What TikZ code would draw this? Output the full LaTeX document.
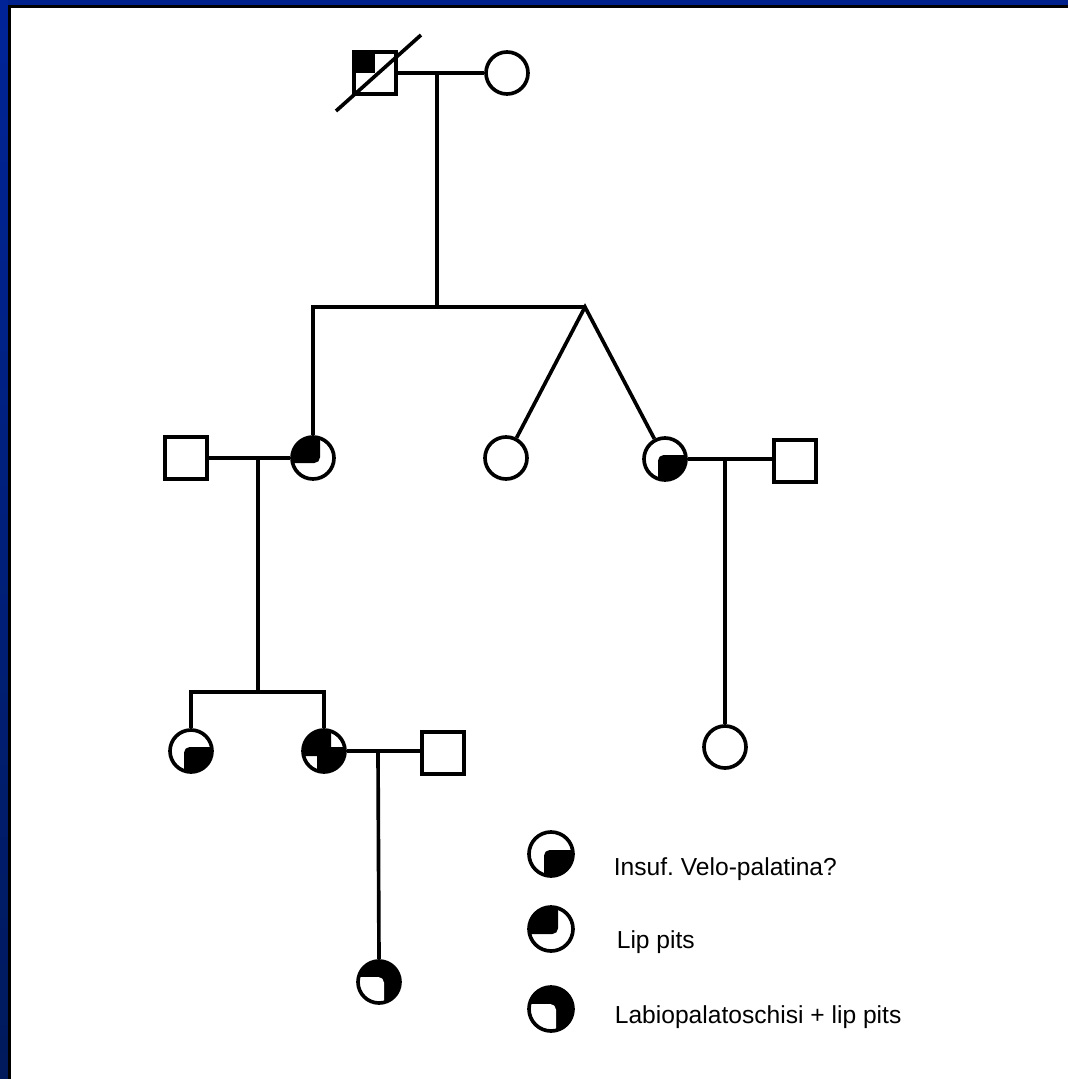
\documentclass[tikz,border=0pt]{standalone}
\usepackage{fontspec}
\setmainfont{Liberation Sans}
\frenchspacing
\definecolor{framelight}{RGB}{0,36,152}
\definecolor{framedark}{RGB}{0,26,92}
% quarter fills, drawn inside the symbols
\newcommand\lipfill{\fill[rounded corners=4pt] ([shift={(-30,-30)}]path picture bounding box.center) rectangle ([shift={(7,5)}]path picture bounding box.center);}
\newcommand\velofill{\fill[rounded corners=4pt] ([shift={(-7,-4)}]path picture bounding box.center) rectangle ([shift={(30,30)}]path picture bounding box.center);}
\tikzset{
  male/.style={draw, rectangle, minimum size=1.06cm, inner sep=0pt},
  female/.style={draw, circle, minimum size=1.05cm, inner sep=0pt},
  lippits/.style={path picture={\lipfill}},
  velo/.style={path picture={\velofill}},
  lipvelo/.style={path picture={\lipfill\velofill}},
  labio/.style={fill=black, path picture={\fill[white, rounded corners=4pt] ([shift={(-30,-5)}]path picture bounding box.center) rectangle ([shift={(5,30)}]path picture bounding box.center);}},
  quarter/.style={path picture={\fill (path picture bounding box.north west) rectangle (path picture bounding box.center);}},
  legend/.style={female, minimum size=1.1cm},
  legtext/.style={anchor=base west, font=\fontsize{17.5}{20}\selectfont, inner sep=0pt}
}
\begin{document}
\begin{tikzpicture}[x=0.025cm, y=-0.025cm, line width=2.6pt]
\useasboundingbox (0,0) rectangle (1068,1079);
% frame
\fill[white] (0,0) rectangle (1068,1079);
\shade[top color=framelight, bottom color=framedark] (0,0) rectangle (8,1079);
\fill[framelight!92!black] (8,0) rectangle (1068,5);
\fill[black] (8,5) rectangle (1068,8);
\fill[black] (8,8) rectangle (11,1079);

% generation I
\node[male, quarter] (gf) at (375,73) {};
\node[female] (gm) at (507,73) {};
\draw (gf.center) ++(-39,38) -- ++(85,-76);
\coordinate (m1) at (437,73);
\coordinate (d1) at (437,307);
\coordinate (tw) at (585,307);

% generation II
\node[male] (h2) at (186,458) {};
\node[female, lippits] (c2) at (313,458) {};
\node[female] (c3) at (506,458) {};
\node[female, velo] (c4) at (665,459) {};
\node[male] (h4) at (795,461) {};
\coordinate (m2) at (258,458);
\coordinate (s3) at (258,692);
\coordinate (m4) at (725,459);

% generation III
\node[female, velo] (c6) at (191,751) {};
\node[female, lipvelo] (c7) at (324,751) {};
\node[male] (h7) at (443,753) {};
\node[female] (c5) at (725,747) {};
\coordinate (m7) at (378,753);

% generation IV
\node[female, labio] (c8) at (379,982) {};

% lines
\draw (gf.east) -- (gm.west);
\draw (m1) -- (d1);
\draw (c2.north) -- (c2.north |- tw) -- (tw);
\draw (c3) -- (tw) -- (c4);
\draw (h2.east) -- (c2.west);
\draw (m2) -- (s3);
\draw (c6.north) -- (c6.north |- s3) -- (c7.north |- s3) -- (c7.north);
\draw (c4.east) -- (h4.west |- c4.east);
\draw (m4) -- (c5.north);
\draw (c7.east) -- (h7.west |- c7.east);
\draw (m7) -- (c8.north);

% legend
\node[legend, velo] (k1) at (551,854) {};
\node[legend, lippits] (k2) at (551,929) {};
\node[legend, labio] (k3) at (551,1009) {};
\node[legtext] (t1) at (612,875) {Insuf. Velo-palatina?};
\node[legtext] (t2) at (615,948) {Lip pits};
\node[legtext] (t3) at (613,1023) {Labiopalatoschisi + lip pits};
\end{tikzpicture}
\end{document}
